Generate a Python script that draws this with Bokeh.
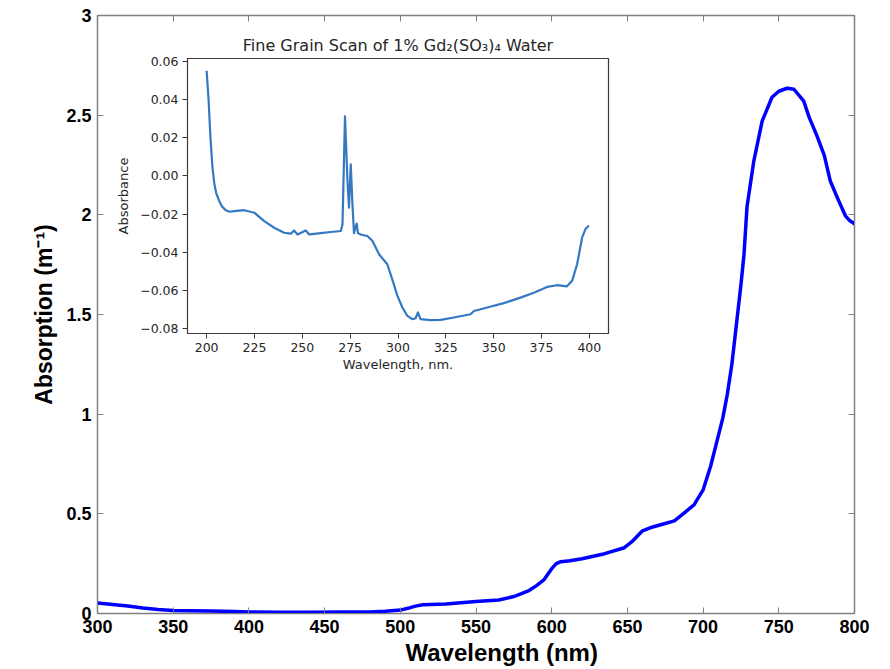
from bokeh.plotting import figure
from bokeh.models import LinearAxis, FixedTicker, CustomJSTickFormatter, Range1d, Title
from bokeh.layouts import column
from bokeh.embed import file_html
from bokeh.resources import INLINE

# Main spectrum: absorption of Gd2(SO3)4 water, 300-800 nm
wavelength = [300, 310, 320, 330, 340, 350, 360, 375, 390, 400, 420, 440, 460, 480,
              490, 500, 505, 510, 515, 530, 550, 565, 575, 585, 590, 595, 600, 603,
              606, 612, 620, 635, 648, 653, 660, 665, 672, 681, 686, 694, 700, 705,
              710, 713, 716, 719, 722, 725, 727, 729, 733.5, 739, 745.5, 750, 755.5,
              760, 766.5, 770, 775, 780, 784, 789, 794, 797, 800]
absorption = [0.053, 0.045, 0.038, 0.028, 0.020, 0.015, 0.014, 0.013, 0.010, 0.008,
              0.006, 0.006, 0.007, 0.008, 0.011, 0.017, 0.026, 0.037, 0.044, 0.048,
              0.060, 0.068, 0.085, 0.115, 0.140, 0.170, 0.225, 0.250, 0.260, 0.265,
              0.275, 0.300, 0.330, 0.360, 0.415, 0.430, 0.445, 0.465, 0.495, 0.545,
              0.620, 0.740, 0.890, 0.980, 1.100, 1.250, 1.450, 1.650, 1.800, 2.040,
              2.270, 2.470, 2.590, 2.620, 2.635, 2.630, 2.570, 2.490, 2.400, 2.300,
              2.170, 2.080, 1.995, 1.970, 1.955]

x_ticks = [300, 350, 400, 450, 500, 550, 600, 650, 700, 750, 800]
y_ticks = [0, 0.5, 1, 1.5, 2, 2.5, 3]
y_tick_labels = ["0", "0.5", "1", "1.5", "2", "2.5", "3"]

# Fine grain scan, 200-400 nm
fine_wavelength = [200, 201, 202, 203, 204, 205, 206.5, 208, 210, 212, 214.4, 219.7,
                   224.9, 230.1, 235.3, 240.5, 244, 245.7, 247.5, 251.8, 253.6, 259.7,
                   264.9, 270.1, 271, 272.3, 273.6, 274.4, 275.3, 276.2, 277, 278.4,
                   279.1, 280.5, 284, 286.6, 290.1, 294.4, 297, 299.7, 302.3, 304.9,
                   307.5, 309.2, 310.4, 311.8, 317, 322.3, 329.2, 337.9, 339.7, 346.6,
                   355.3, 364, 371, 377.9, 383.1, 388.3, 391, 393.6, 396.2, 397.9, 399.7]
fine_absorbance = [0.0551, 0.040, 0.020, 0.005, -0.004, -0.009, -0.013, -0.016,
                   -0.018, -0.0188, -0.0185, -0.018, -0.0193, -0.0237, -0.0272,
                   -0.0298, -0.0303, -0.0286, -0.0307, -0.0286, -0.0307, -0.030,
                   -0.0294, -0.0289, -0.0254, 0.0312, -0.0028, -0.0167, 0.006, -0.015,
                   -0.030, -0.025, -0.030, -0.0307, -0.0315, -0.034, -0.0411, -0.0463,
                   -0.0542, -0.0629, -0.069, -0.0734, -0.0751, -0.0746, -0.0716,
                   -0.0751, -0.0756, -0.0755, -0.0742, -0.0725, -0.0708, -0.069,
                   -0.0667, -0.0638, -0.0612, -0.0582, -0.0573, -0.0579, -0.055,
                   -0.0463, -0.0324, -0.028, -0.026]

fine_x_ticks = [200, 225, 250, 275, 300, 325, 350, 375, 400]
fine_y_ticks = [-0.08, -0.06, -0.04, -0.02, 0.0, 0.02, 0.04, 0.06]

FRAME = "#808080"
BOLD_FONT = "Liberation Sans"
BORDER_L, BORDER_R = 97, 36

p = figure(width=890, height=669, output_backend="svg", toolbar_location=None,
           x_range=Range1d(300, 800), y_range=Range1d(0, 3),
           min_border_left=BORDER_L, min_border_right=BORDER_R, min_border_top=15,
           min_border_bottom=56)
p.background_fill_color = "white"
p.border_fill_color = "white"
p.outline_line_color = FRAME
p.outline_line_width = 1.5
p.grid.visible = False

p.line(wavelength, absorption, line_color="#0000ff", line_width=3.5,
       line_join="round", line_cap="round")

for ax in (p.xaxis[0], p.yaxis[0]):
    ax.axis_line_color = FRAME
    ax.major_tick_line_color = FRAME
    ax.major_tick_in = 6
    ax.major_tick_out = 0
    ax.minor_tick_line_color = None
    ax.major_label_text_font = BOLD_FONT
    ax.major_label_text_font_style = "bold"
    ax.major_label_text_font_size = "18px"
    ax.major_label_text_color = "black"
    ax.axis_label_text_font = BOLD_FONT
    ax.axis_label_text_font_style = "bold"
    ax.axis_label_text_color = "black"

p.yaxis[0].axis_label_text_font_size = "23px"
p.xaxis[0].ticker = FixedTicker(ticks=x_ticks)
p.yaxis[0].ticker = FixedTicker(ticks=y_ticks)
p.yaxis[0].major_label_overrides = dict(zip(y_ticks, y_tick_labels))
p.yaxis[0].axis_label = "Absorption (m\u207b\u00b9)"
p.xaxis[0].major_label_standoff = 6
p.yaxis[0].major_label_standoff = 6
p.yaxis[0].axis_label_standoff = 6

# x-axis label, set somewhat right of the frame centre
xlabel = Title(text="Wavelength (nm)", align="left", offset=308,
               text_font=BOLD_FONT, text_font_style="bold",
               text_font_size="24px", text_color="black", standoff=2)
p.add_layout(xlabel, "below")

# Mirror ticks on the top and right edges of the box
top = LinearAxis(ticker=FixedTicker(ticks=x_ticks))
right = LinearAxis(ticker=FixedTicker(ticks=y_ticks))
for ax in (top, right):
    ax.axis_line_color = FRAME
    ax.major_tick_line_color = FRAME
    ax.major_tick_in = 6
    ax.major_tick_out = 0
    ax.minor_tick_line_color = None
    ax.major_label_text_font_size = "0px"
    ax.major_label_text_color = None
    ax.major_label_standoff = 0
p.add_layout(top, "above")
p.add_layout(right, "right")

# Inset: fine grain scan, floated over the upper-left of the main plot.
# Its side borders equal the main plot's, so the column keeps both frames as set.
IN_T, IN_B = 30, 42
inset = figure(width=BORDER_L + 421 + BORDER_R, height=IN_T + 275 + IN_B,
               output_backend="svg", toolbar_location=None,
               x_range=Range1d(190, 410), y_range=Range1d(-0.0826, 0.0615),
               min_border_left=BORDER_L, min_border_right=BORDER_R,
               min_border_top=IN_T, min_border_bottom=IN_B,
               title="Fine Grain Scan of 1% Gd\u2082(SO\u2083)\u2084 Water",
               styles={"position": "absolute", "left": f"{187 - BORDER_L}px",
                       "top": f"{58 - IN_T}px"})
inset.title.align = "center"
inset.title.text_font = "DejaVu Sans"
inset.title.text_font_style = "normal"
inset.title.text_font_size = "16px"
inset.title.text_color = "#262626"
inset.title.offset = 0
inset.title.standoff = 7
inset.background_fill_color = "white"
inset.border_fill_color = None
inset.outline_line_color = "#3a3a3a"
inset.outline_line_width = 1.2
inset.grid.visible = False

inset.line(fine_wavelength, fine_absorbance, line_color="#3478c2", line_width=2.2,
           line_join="round")

for ax in (inset.xaxis[0], inset.yaxis[0]):
    ax.axis_line_color = "#3a3a3a"
    ax.major_tick_line_color = "#3a3a3a"
    ax.major_tick_in = 0
    ax.major_tick_out = 5
    ax.minor_tick_line_color = None
    ax.major_label_text_font = "DejaVu Sans"
    ax.major_label_text_font_size = "12.5px"
    ax.major_label_text_color = "#262626"
    ax.axis_label_text_font = "DejaVu Sans"
    ax.axis_label_text_font_style = "normal"
    ax.axis_label_text_font_size = "13px"
    ax.axis_label_text_color = "#262626"
    ax.major_label_standoff = 4

inset.xaxis[0].ticker = FixedTicker(ticks=fine_x_ticks)
inset.yaxis[0].ticker = FixedTicker(ticks=fine_y_ticks)
inset.yaxis[0].formatter = CustomJSTickFormatter(
    code="return tick.toFixed(2).replace('-', '\u2212');")
inset.xaxis[0].axis_label = "Wavelength, nm."
inset.yaxis[0].axis_label = "Absorbance"
inset.xaxis[0].axis_label_standoff = 2
inset.yaxis[0].axis_label_standoff = 6

page = column(p, inset, styles={"position": "relative"})

with open("out.html", "w") as f:
    f.write(file_html(page, INLINE))
